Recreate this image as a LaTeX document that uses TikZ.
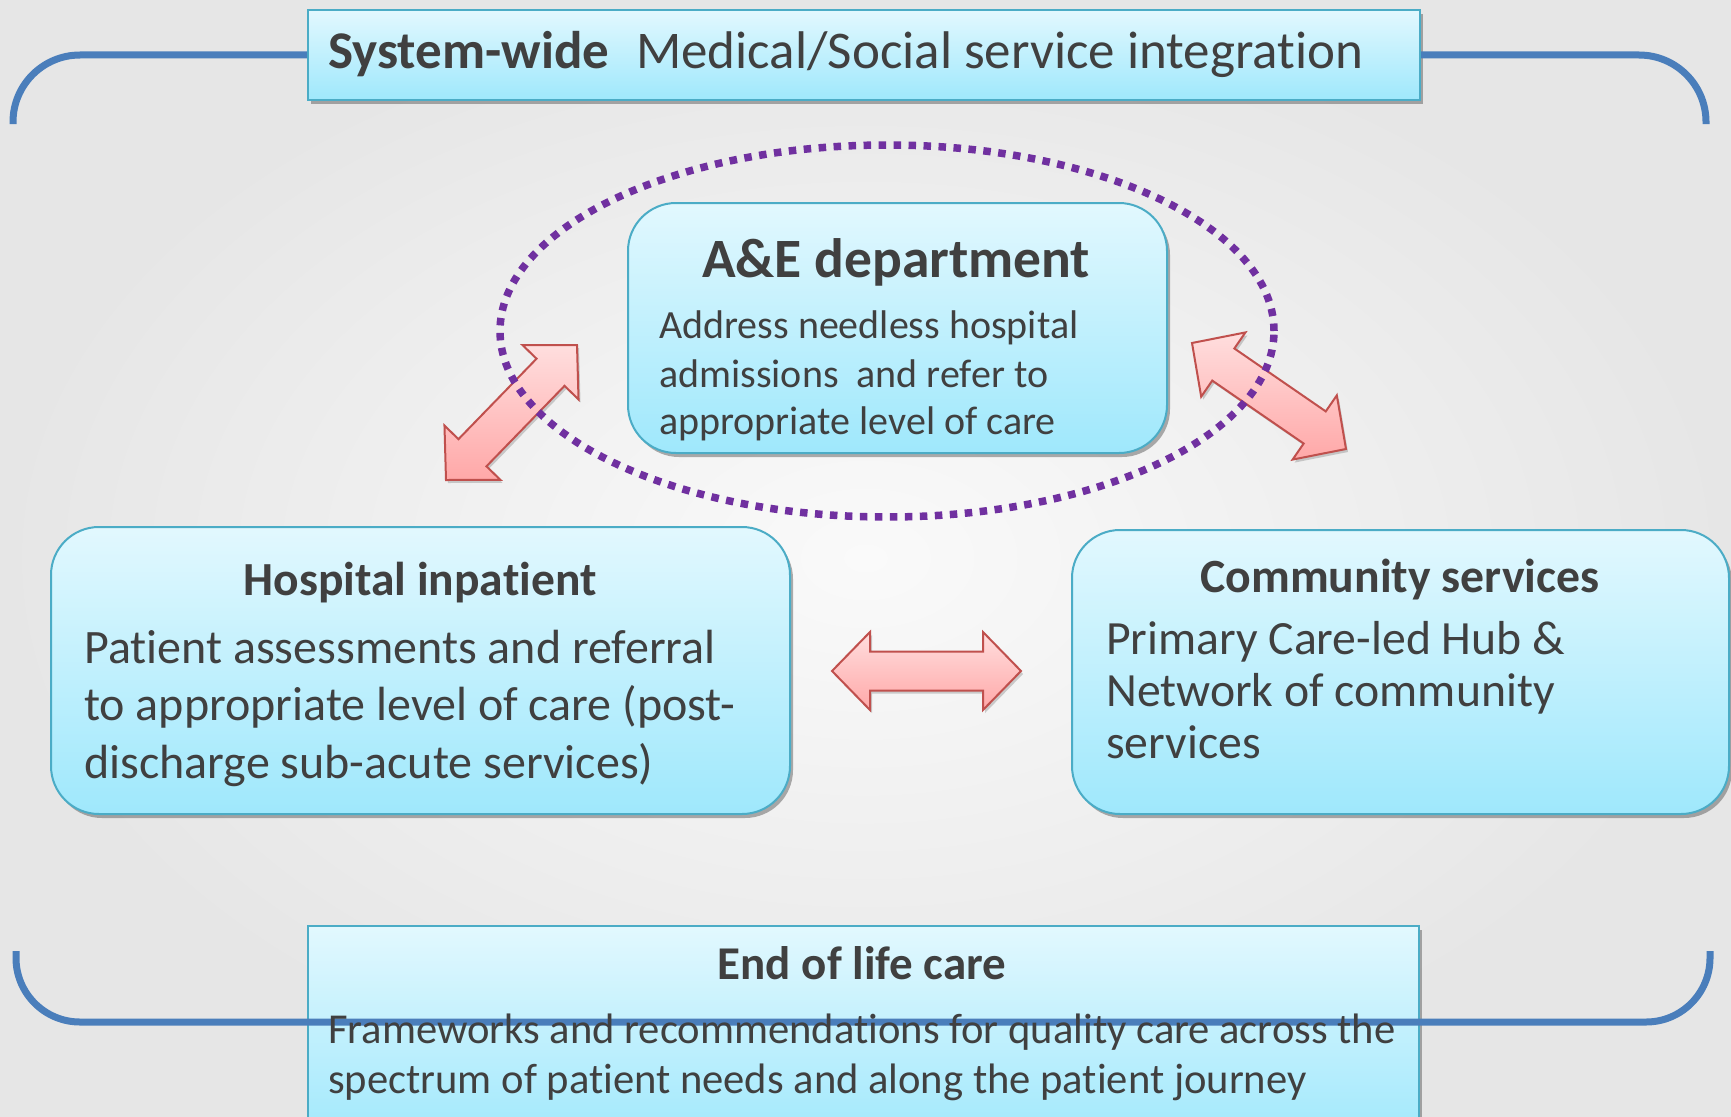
\documentclass[tikz,border=0pt]{standalone}
\usepackage{fontspec}
\setmainfont{Carlito}[Ligatures=NoCommon, Contextuals=NoAlternate]
\usetikzlibrary{calc,shadows}
\definecolor{boxline}{HTML}{4BACC6}
\definecolor{boxtop}{HTML}{E2F8FE}
\definecolor{boxbot}{HTML}{9FE8FC}
\definecolor{txtc}{HTML}{404040}
\definecolor{brk}{HTML}{4A7EBB}
\definecolor{dotc}{HTML}{7030A0}
\definecolor{arrline}{HTML}{C0504D}
\definecolor{arrtop}{HTML}{FFDEDE}
\definecolor{arrbot}{HTML}{FFA8A8}
\definecolor{bgin}{HTML}{FAFAFA}
\definecolor{bgout}{HTML}{E6E6E6}
\newcommand\fsz[1]{\fontsize{#1pt}{#1pt}\selectfont}
\newcommand\blockarr[2]{%
  \path[blockarrow] (#1)
    -- ($(#1)!38pt!(#2)!39pt!90:(#2)$)
    -- ($(#1)!38pt!(#2)!19.5pt!90:(#2)$)
    -- ($(#2)!38pt!(#1)!19.5pt!-90:(#1)$)
    -- ($(#2)!38pt!(#1)!39pt!-90:(#1)$)
    -- (#2)
    -- ($(#2)!38pt!(#1)!39pt!90:(#1)$)
    -- ($(#2)!38pt!(#1)!19.5pt!90:(#1)$)
    -- ($(#1)!38pt!(#2)!19.5pt!-90:(#2)$)
    -- ($(#1)!38pt!(#2)!39pt!-90:(#2)$)
    -- cycle;}
\begin{document}
\begin{tikzpicture}[x=1pt,y=-1pt,
  panel/.style={draw=boxline, line width=2pt, top color=boxtop, bottom color=boxbot,
    inner sep=0pt, anchor=north west,
    drop shadow={shadow xshift=3pt, shadow yshift=-4pt, opacity=0.45, fill=black!70}},
  roundpanel/.style={panel, rounded corners=48pt},
  bluebracket/.style={draw=brk, line width=7pt},
  ring/.style={draw=dotc, line width=7.5pt, dash pattern=on 7.5pt off 7.5pt},
  blockarrow/.style={draw=arrline, line width=2pt, top color=arrtop, bottom color=arrbot,
    line join=miter, drop shadow={shadow xshift=2pt, shadow yshift=-3pt, opacity=0.3, fill=black!60}},
  lbl/.style={inner sep=0pt, text=txtc},
]
\path[use as bounding box, clip] (0,0) rectangle (1731,1116);
\shade[inner color=bgin, outer color=bgout] (0,0) rectangle (1731,1116);

% boxes
\node[panel, minimum width=1112pt, minimum height=90pt] (top) at (307,9) {};
\node[roundpanel, minimum width=539pt, minimum height=250pt] (ae) at (627,202) {};
\node[roundpanel, minimum width=739pt, minimum height=287pt] (hosp) at (50,526) {};
\node[roundpanel, minimum width=657pt, minimum height=284pt] (comm) at (1071,529) {};
\node[panel, minimum width=1111pt, minimum height=220pt] (eol) at (307,925) {};

% top bracket
\coordinate (tlend) at (13,124);
\coordinate (trend) at (1706,124);
\draw[bluebracket, rounded corners=67pt] (top.west) -- (tlend |- top.west) -- (tlend);
\draw[bluebracket, rounded corners=67pt] (top.east) -- (trend |- top.east) -- (trend);

% block arrows
\coordinate (la) at (446,480); \coordinate (lb) at (577,345);
\coordinate (ra) at (1192,343); \coordinate (rb) at (1346,449);
\coordinate (ha) at (832,671); \coordinate (hb) at (1021,671);
\blockarr{la}{lb}
\blockarr{ra}{rb}
\blockarr{ha}{hb}

% dotted ellipse
\draw[ring] (887,331) ellipse [x radius=387pt, y radius=186pt];

% bottom bracket
\coordinate (blend) at (16,951);
\coordinate (brend) at (1710,951);
\draw[bluebracket, rounded corners=64pt] (blend) -- (16,1022) -- (1710,1022) -- (brend);

% texts
\node[lbl, anchor=base west] (toptext) at (328,68)
  {\fsz{53}\bfseries System-wide\hspace{27pt}\mdseries Medical/Social service integration};

\node[lbl, anchor=base] (aetitle) at (896,277) {\fsz{55.5}\bfseries A\&E department};
\node[lbl, anchor=base west] (ae1) at (659,338) {\fsz{40}Address needless hospital};
\node[lbl, anchor=base west] (ae2) at (659,387) {\fsz{40}admissions\ \ and refer to};
\node[lbl, anchor=base west] (ae3) at (659,434) {\fsz{40}appropriate level of care};

\node[lbl, anchor=base] (hosptitle) at (420,595) {\fsz{47.5}\bfseries Hospital inpatient};
\node[lbl, anchor=base west] (hosp1) at (84,663) {\fsz{48}Patient assessments and referral};
\node[lbl, anchor=base west] (hosp2) at (84,720) {\fsz{48}to appropriate level of care (post-};
\node[lbl, anchor=base west] (hosp3) at (84,778) {\fsz{48}discharge sub-acute services)};

\node[lbl, anchor=base] (commtitle) at (1400,592) {\fsz{47.7}\bfseries Community services};
\node[lbl, anchor=base west] (comm1) at (1106,654) {\fsz{47.7}Primary Care-led Hub \&};
\node[lbl, anchor=base west] (comm2) at (1106,706) {\fsz{47.7}Network of community};
\node[lbl, anchor=base west] (comm3) at (1106,758) {\fsz{47.7}services};

\node[lbl, anchor=base] (eoltitle) at (862,979) {\fsz{47}\bfseries End of life care};
\node[lbl, anchor=base west] (eol1) at (328,1043) {\fsz{42.6}Frameworks and recommendations for quality care across the};
\node[lbl, anchor=base west] (eol2) at (328,1093) {\fsz{42.6}spectrum of patient needs and along the patient journey};
\end{tikzpicture}
\end{document}
